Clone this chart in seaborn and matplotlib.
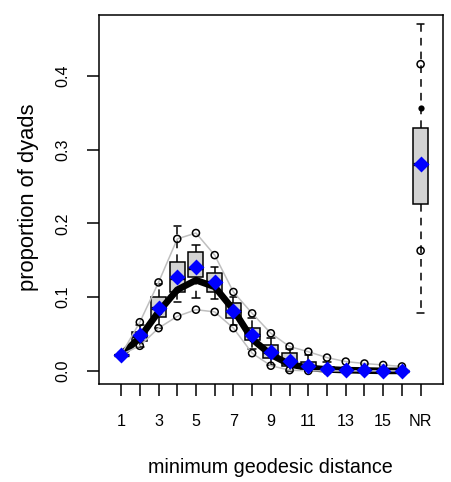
import numpy as np
import pandas as pd
import matplotlib
matplotlib.use("Agg")
import matplotlib.pyplot as plt
import seaborn as sns

# ---------------- data ----------------
labels = [str(i) for i in range(1, 17)] + ["NR"]
observed = [0.022, 0.045, 0.080, 0.110, 0.123, 0.114, 0.083, 0.043, 0.022, 0.009,
            0.004, 0.002, 0.001, 0.0005, 0.0, 0.0, 0.357]
sim_mean = [0.022, 0.048, 0.085, 0.127, 0.141, 0.120, 0.081, 0.048, 0.025, 0.013,
            0.007, 0.003, 0.0015, 0.001, 0.0005, 0.0003, 0.281]
lower_q = [0.022, 0.034, 0.058, 0.074, 0.083, 0.080, 0.058, 0.024, 0.007, 0.001,
           0.0, 0.0, 0.0, 0.0, 0.0, 0.0, 0.163]
upper_q = [0.022, 0.066, 0.120, 0.179, 0.187, 0.157, 0.107, 0.078, 0.051, 0.033,
           0.026, 0.018, 0.0126, 0.010, 0.008, 0.006, 0.416]
box_q1 = [0.022, 0.040, 0.073, 0.107, 0.127, 0.107, 0.072, 0.042, 0.017, 0.006,
          0.001, 0.0, 0.0, 0.0, 0.0, 0.0, 0.226]
box_med = [0.022, 0.047, 0.085, 0.126, 0.140, 0.120, 0.081, 0.048, 0.025, 0.012,
           0.006, 0.002, 0.001, 0.0, 0.0, 0.0, 0.281]
box_q3 = [0.022, 0.053, 0.100, 0.148, 0.161, 0.133, 0.092, 0.058, 0.035, 0.024,
          0.012, 0.005, 0.002, 0.001, 0.0, 0.0, 0.330]
whisk_lo = [0.022, 0.033, 0.058, 0.094, 0.099, 0.098, 0.062, 0.030, 0.008, 0.0,
            0.0, 0.0, 0.0, 0.0, 0.0, 0.0, 0.078]
whisk_hi = [0.022, 0.062, 0.118, 0.197, 0.171, 0.141, 0.100, 0.072, 0.045, 0.030,
            0.022, 0.012, 0.005, 0.003, 0.001, 0.0, 0.471]
y_ticks = [0.0, 0.1, 0.2, 0.3, 0.4]
y_ticklabels = ["0.0", "0.1", "0.2", "0.3", "0.4"]
xlabel = "minimum geodesic distance"
ylabel = "proportion of dyads"

# ---------------- style ----------------
sns.set_style("ticks")
plt.rcParams["font.family"] = ["Liberation Sans", "DejaVu Sans"]
plt.rcParams.update({"text.color": "black", "axes.labelcolor": "black",
                     "xtick.color": "black", "ytick.color": "black",
                     "xtick.labelcolor": "black", "ytick.labelcolor": "black"})

W, H = 451, 482
fig = plt.figure(figsize=(W / 100, H / 100), dpi=100)
ax = fig.add_axes([99 / W, 98 / H, (442.7 - 99) / W, (384 - 15) / H])

pos = np.arange(1, len(labels) + 1)
df = pd.DataFrame({"pos": pos, "label": labels, "observed": observed,
                   "sim_mean": sim_mean, "lower": lower_q, "upper": upper_q})
main = df.iloc[:-1]

# boxplots of the simulated statistics
stats = [dict(q1=a, med=m, q3=b, whislo=lo, whishi=hi, fliers=[])
         for a, m, b, lo, hi in zip(box_q1, box_med, box_q3, whisk_lo, whisk_hi)]
ax.bxp(stats, positions=pos, widths=0.8, patch_artist=True, showfliers=False,
       capwidths=0.4,
       boxprops=dict(facecolor="#D3D3D3", edgecolor="black", linewidth=1.1),
       medianprops=dict(color="black", linewidth=2.4),
       whiskerprops=dict(color="black", linewidth=1.1, linestyle=(0, (5, 4))),
       capprops=dict(color="black", linewidth=1.1))

# observed statistic (thick black line + dots)
sns.lineplot(data=main, x="pos", y="observed", color="black", linewidth=4.8,
             estimator=None, sort=False, ax=ax, zorder=3)
sns.scatterplot(data=df, x="pos", y="observed", color="black", s=20,
                linewidth=0, ax=ax, zorder=3)

# 95% range lines with open circles
for col in ["lower", "upper"]:
    sns.lineplot(data=main, x="pos", y=col, color="#BFBFBF", linewidth=1.1,
                 estimator=None, sort=False, ax=ax, zorder=4)
    sns.scatterplot(data=df, x="pos", y=col, marker="o", s=26,
                    facecolor="none", edgecolor="black", linewidth=1.1,
                    ax=ax, zorder=5)

# simulated mean: blue diamonds
sns.scatterplot(data=df, x="pos", y="sim_mean", marker="D", color="blue",
                s=66, linewidth=0, ax=ax, zorder=6)

# ---------------- axes ----------------
ax.set_xlim(-0.18, 18.18)
ax.set_ylim(-0.0178, 0.4827)
ax.set_xticks(pos)
shown = [lab if (i % 2 == 0 or lab == "NR") else "" for i, lab in enumerate(labels)]
ax.set_xticklabels(shown, fontsize=11.6)
ax.set_yticks(y_ticks)
ax.set_yticklabels(y_ticklabels, fontsize=11.6, rotation=90, va="center")
ax.tick_params(axis="both", direction="out", length=8.6, width=1.1, color="black",
               labelcolor="black")
ax.tick_params(axis="x", pad=13)
ax.tick_params(axis="y", pad=12)
for s in ax.spines.values():
    s.set_visible(True)
    s.set_linewidth(1.1)
    s.set_color("black")

ax.set_xlabel(xlabel, fontsize=14.2, color="black")
ax.set_ylabel(ylabel, fontsize=15.8, color="black")
ax.xaxis.set_label_coords((270.5 - 99) / (442.7 - 99), (384 - 458) / 369)
ax.yaxis.set_label_coords((39 - 99) / (442.7 - 99), (384 - 197) / 369)

fig.savefig("out.png", dpi=100)
